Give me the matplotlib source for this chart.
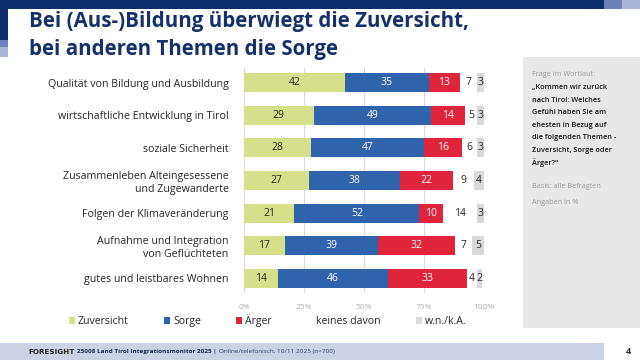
import matplotlib
matplotlib.use("Agg")
import matplotlib.pyplot as plt
from matplotlib.patches import Rectangle
import numpy as np

plt.rcParams['font.family'] = ['Open Sans', 'DejaVu Sans']

categories = [
    "Qualität von Bildung und Ausbildung",
    "wirtschaftliche Entwicklung in Tirol",
    "soziale Sicherheit",
    "Zusammenleben Alteingesessene\nund Zugewanderte",
    "Folgen der Klimaveränderung",
    "Aufnahme und Integration\nvon Geflüchteten",
    "gutes und leistbares Wohnen",
]
series_names = ["Zuversicht", "Sorge", "Ärger", "keines davon", "w.n./k.A."]
zuversicht = [42, 29, 28, 27, 21, 17, 14]
sorge = [35, 49, 47, 38, 52, 39, 46]
aerger = [13, 14, 16, 22, 10, 32, 33]
keines = [7, 5, 6, 9, 14, 7, 4]
wnka = [3, 3, 3, 4, 3, 5, 2]
xticks = [0, 25, 50, 75, 100]
xticklabels = ["0%", "25%", "50%", "75%", "100%"]

colors = ["#d6e08a", "#2f64ac", "#e0243b", "#ffffff", "#d9d9d9"]
label_colors = ["#262626", "#ffffff", "#ffffff", "#262626", "#262626"]

W, H = 640, 360
fig = plt.figure(figsize=(6.4, 3.6), dpi=100)
fig.patch.set_facecolor("white")

def px(x0, y0, w, h, color, z=0):
    fig.patches.append(Rectangle((x0 / W, 1 - (y0 + h) / H), w / W, h / H,
                                 transform=fig.transFigure, facecolor=color,
                                 edgecolor="none", zorder=z))

# decorative frame
navy = "#0e2f6e"
px(0, 0, 604, 9, navy)
px(604, 0, 18, 9, "#6a80b8")
px(622, 0, 18, 9, "#aab6da")
px(0, 0, 8, 40, navy)
px(0, 40, 8, 7, "#6a80b8")
px(0, 47, 8, 10, "#aab6da")
# side panel
px(523, 57, 117, 271, "#e8e8e8")
# footer band
px(0, 343, 604, 17, "#cbd2e6")

# title
fig.text(29 / W, 1 - 22 / H, "Bei (Aus-)Bildung überwiegt die Zuversicht,",
         fontsize=14.8, fontweight="bold", color="#14316b", va="center", ha="left")
fig.text(29 / W, 1 - 49 / H, "bei anderen Themen die Sorge",
         fontsize=14.8, fontweight="bold", color="#14316b", va="center", ha="left")

# main axes
ax_left, ax_right, ax_top, ax_bottom = 244, 484, 68, 293
ax = fig.add_axes([ax_left / W, 1 - ax_bottom / H, (ax_right - ax_left) / W,
                   (ax_bottom - ax_top) / H])
ax.set_facecolor("none")
y = np.arange(len(categories))
data = [zuversicht, sorge, aerger, keines, wnka]
left = np.zeros(len(categories))
handles = []
for vals, col, lc, name in zip(data, colors, label_colors, series_names):
    vals = np.array(vals, dtype=float)
    bars = ax.barh(y, vals, left=left, height=0.585, color=col, label=name,
                   edgecolor="none", zorder=2)
    handles.append(bars)
    for yi, (l, v) in enumerate(zip(left, vals)):
        ax.text(l + v / 2, yi, f"{int(v)}", ha="center", va="center",
                fontsize=7.5, color=lc, zorder=3)
    left += vals

ax.set_xlim(0, 100)
ax.set_ylim(len(categories) - 0.54, -0.46)
ax.set_xticks(xticks)
ax.set_xticklabels(xticklabels, fontsize=6, color="#b0b0b0")
ax.tick_params(axis="x", length=0, pad=8)
ax.set_yticks(y)
ax.set_yticklabels(categories, fontsize=7.7, color="#262626", linespacing=1.3)
ax.tick_params(axis="y", length=0, pad=11)
ax.grid(axis="x", color="#d9d9d9", linewidth=0.8, zorder=0)
ax.set_axisbelow(True)
for s in ax.spines.values():
    s.set_visible(False)

# legend
leg = fig.legend(handles=handles, labels=series_names, ncol=5,
                 loc="center left", bbox_to_anchor=(59 / W, 1 - 321 / H),
                 frameon=False, fontsize=7.6, handlelength=0.6, handleheight=0.6,
                 handletextpad=0.3, columnspacing=3.3)
for t in leg.get_texts():
    t.set_color("#262626")

# side panel text
sx = 532 / W
fig.text(sx, 1 - 74 / H, "Frage im Wortlaut:", fontsize=5.2, color="#9a9a9a",
         va="center", ha="left")
q_lines = ["„Kommen wir zurück", "nach Tirol: Welches", "Gefühl haben Sie am",
           "ehesten in Bezug auf", "die folgenden Themen -",
           "Zuversicht, Sorge oder", "Ärger?“"]
for i, line in enumerate(q_lines):
    fig.text(sx, 1 - (88 + i * 12.4) / H, line, fontsize=5.3, color="#1a1a1a",
             fontweight="semibold", va="center", ha="left")
fig.text(sx, 1 - 186 / H, "Basis: alle Befragten", fontsize=5.2, color="#9a9a9a",
         va="center", ha="left")
fig.text(sx, 1 - 203 / H, "Angaben in %", fontsize=5.2, color="#9a9a9a",
         va="center", ha="left")

# footer
renderer = fig.canvas.get_renderer()
t1 = fig.text(28 / W, 1 - 352 / H, "FORESIGHT", fontsize=5.2, fontweight="bold",
              family="DejaVu Sans", color="#262626", va="center", ha="left")
bb = t1.get_window_extent(renderer)
t2 = fig.text((bb.x1 + 3) / W, 1 - 352 / H, "25008 Land Tirol Integrationsmonitor 2025 |",
              fontsize=4.6, fontweight="bold", color="#1a2a4a", va="center", ha="left")
bb2 = t2.get_window_extent(renderer)
fig.text((bb2.x1 + 2) / W, 1 - 352 / H, "Online/telefonisch, 10/11 2025 (n=700)",
         fontsize=4.6, color="#2a3a6a", va="center", ha="left")
fig.text(628 / W, 1 - 352 / H, "4", fontsize=6.5, fontweight="bold",
         color="#262626", va="center", ha="center")

fig.savefig("out.png", dpi=100)
